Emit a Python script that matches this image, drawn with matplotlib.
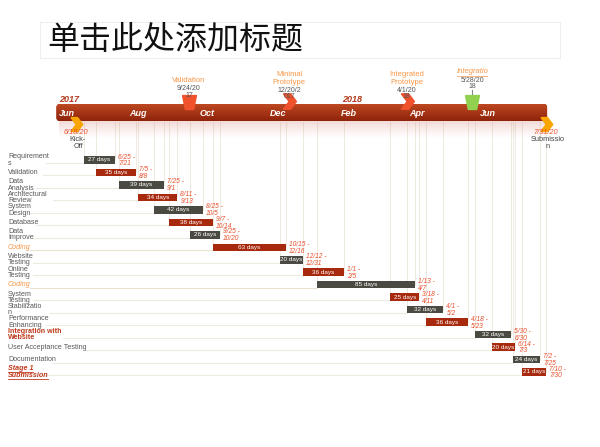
import matplotlib
matplotlib.use("Agg")
import matplotlib.pyplot as plt
import matplotlib.dates as mdates
import matplotlib.transforms as mtransforms
from matplotlib.patches import FancyBboxPatch, Rectangle
from matplotlib.path import Path
import numpy as np
import pandas as pd

# ---- data ----
title = "单击此处添加标题"

task_labels = ["Requirement\ns", "Validation", "Data\nAnalysis", "Architectural\nReview",
               "System\nDesign", "Database", "Data\nImprove", "Coding", "Website\nTesting",
               "Online\nTesting", "Coding", "System\nTesting", "Stabilizatio\nn",
               "Performance\nEnhancing", "Integration with\nWebsite", "User Acceptance Testing",
               "Documentation", "Stage 1\nSubmission"]
task_kind = ["n", "n", "n", "n", "n", "n", "n", "code", "n", "n", "code", "n", "n", "n",
             "integ", "n", "n", "stage"]
task_start = ["2017-06-25", "2017-07-05", "2017-07-25", "2017-08-11", "2017-08-25",
              "2017-09-07", "2017-09-25", "2017-10-15", "2017-12-12", "2018-01-01",
              "2018-01-13", "2018-03-18", "2018-04-01", "2018-04-18", "2018-05-30",
              "2018-06-14", "2018-07-02", "2018-07-10"]
task_days = [27, 35, 39, 34, 42, 38, 26, 63, 20, 36, 85, 25, 32, 36, 32, 20, 24, 21]
task_range = ["6/25 -\n7/21", "7/5 -\n8/8", "7/25 -\n9/1", "8/11 -\n9/13", "8/25 -\n10/5",
              "9/7 -\n10/14", "9/25 -\n10/20", "10/15 -\n12/16", "12/12 -\n12/31",
              "1/1 -\n2/5", "1/13 -\n4/7", "3/18 -\n4/11", "4/1 -\n5/2", "4/18 -\n5/23",
              "5/30 -\n6/30", "6/14 -\n7/3", "7/2 -\n7/25", "7/10 -\n7/30"]

ms_dates = ["2017-06-18", "2017-09-24", "2017-12-20", "2018-04-01", "2018-05-28", "2018-07-31"]
ms_names = ["Kick-\nOff", "Validation", "Minimal\nPrototype", "Integrated\nPrototype",
            "Integratio", "Submissio\nn"]
ms_datetext = ["6/18/20", "9/24/20\n17", "12/20/2\n017", "4/1/20\n18", "5/28/20\n18", "7/31/20"]

months = ["2017-06-01", "2017-08-01", "2017-10-01", "2017-12-01", "2018-02-01",
          "2018-04-01", "2018-06-01"]
month_names = ["Jun", "Aug", "Oct", "Dec", "Feb", "Apr", "Jun"]
years = ["2017", "2018"]
year_at = ["2017-06-01", "2018-02-01"]
timeline_span = ["2017-06-01", "2018-08-01"]

# ---- colours ----
GRAY = "#4b4a42"
RED = "#a82a0e"
DATE_RED = "#e8502d"
ORANGE = "#f79646"
LABEL_GRAY = "#595959"
LINE = "#eeeadf"


def dnum(s):
    return mdates.date2num(pd.Timestamp(s))


PX = 1.152  # pixels per day
d0 = dnum("2017-06-18")

fig = plt.figure(figsize=(6, 4.47), dpi=100)
ax = fig.add_axes([0, 0, 1, 1])
ax.axis("off")
lab_tr = mtransforms.blended_transform_factory(ax.transAxes, ax.transData)
fnt = "Liberation Sans"

# title box
fig.patches.append(Rectangle((40 / 600, 1 - 58 / 447), 520 / 600, 36 / 447,
                             transform=fig.transFigure, fill=False, ec="#eeeeee", lw=0.8))
fig.text(47 / 600, 1 - 40 / 447, title, fontsize=23, va="center", ha="left",
         family=["Noto Sans CJK SC", "DejaVu Sans"], fontweight="light", color="#111111")

# timeline bar with gradient + reflection
tx0, tx1 = dnum(timeline_span[0]), dnum(timeline_span[1])
bar_top, bar_bot = 104, 121
tl = FancyBboxPatch((tx0, bar_top), tx1 - tx0, bar_bot - bar_top,
                    boxstyle="round,pad=0,rounding_size=3", mutation_aspect=1.17,
                    fc="#a5321a", ec="none", zorder=3)
ax.add_patch(tl)
grad = np.linspace(0, 1, 20)[:, None, None]
top_c = np.array([0.74, 0.28, 0.13])
bot_c = np.array([0.56, 0.14, 0.04])
img = top_c * (1 - grad) + bot_c * grad
im = ax.imshow(img, extent=[tx0, tx1, bar_bot, bar_top], origin="upper", aspect="auto",
               zorder=3.1)
im.set_clip_path(tl)
refl = np.zeros((24, 1, 4))
refl[..., 0], refl[..., 1], refl[..., 2] = 0.80, 0.45, 0.40
refl[:, 0, 3] = np.linspace(0.35, 0.0, 24) ** 1.3
ax.imshow(refl, extent=[tx0 + 2, tx1 - 2, 140, bar_bot + 0.5], origin="upper",
          aspect="auto", zorder=1)
ax.set_xlim(d0 - 76 / PX, d0 + 524 / PX)
ax.set_ylim(447, 0)

for m, name in zip(months, month_names):
    ax.text(dnum(m) + 2.5 / PX, 113, name, color="white", fontsize=6.5, fontweight="bold",
            style="italic", ha="left", va="center", family=fnt, zorder=4)
for y, m in zip(years, year_at):
    ax.text(dnum(m) + 3 / PX, 99, y, color="#b23a1d", fontsize=6.5, fontweight="bold",
            style="italic", ha="left", va="center", family=fnt, zorder=4)

# ---- tasks ----
top_row, row_step, bar_h = 160, 12.47, 7.5
for i, (lab, kind, st, nd, rng) in enumerate(zip(task_labels, task_kind, task_start,
                                                task_days, task_range)):
    y = top_row + i * row_step
    s = dnum(st)
    e = s + nd
    col = GRAY if i % 2 == 0 else RED
    # guide lines
    for xv in (s, e):
        ax.plot([xv, xv], [bar_bot + 1, y], color=LINE, lw=0.7, zorder=0.5)
    longest = max(len(t) for t in lab.split("\n"))
    lx = d0 - 76 / PX + (10 + 3.3 * longest) / PX
    ax.plot([lx, s], [y + 3, y + 3], color="#e9e3d0" if kind == "code" else LINE,
            lw=0.8, zorder=0.6)
    ax.barh(y, nd, left=s, height=bar_h, color=col, zorder=2)
    ax.text(s + nd / 2, y, f"{nd} days", color="white", fontsize=4.6, ha="center",
            va="center", family=fnt, zorder=5)
    ax.text(e + 3 / PX, y + 0.5, rng, color=DATE_RED, fontsize=4.8, style="italic",
            ha="left", va="center", family=fnt, linespacing=0.98, zorder=5)
    kw = dict(fontsize=5.1, ha="left", va="center", family=fnt, linespacing=0.86,
              transform=lab_tr, color=LABEL_GRAY)
    if kind == "code":
        kw.update(color=ORANGE, style="italic")
    elif kind == "integ":
        kw.update(color="#c0391b", fontweight="bold")
    elif kind == "stage":
        kw.update(color="#c0391b", fontweight="bold", style="italic")
    ax.text(8 / 600, y, lab, **kw)
    if kind == "stage":
        for k in range(2):
            ax.plot([8 / 600, (8 + [25, 40][k]) / 600], [y - 0.3 + 7 * k, y - 0.3 + 7 * k],
                    color="#c0391b", lw=0.6, transform=lab_tr)

# ---- milestones ----
chev = Path([(-0.8, 1), (0.15, 1), (0.9, 0), (0.15, -1), (-0.8, -1), (-0.05, 0), (-0.8, 1)])
cup = Path([(-1, 1), (1, 1), (0.6, -1), (-0.6, -1), (-1, 1)])
ms_x = [dnum(d) for d in ms_dates]

# below-bar milestones: kick-off and submission
for k in (0, 5):
    ax.plot(ms_x[k], 124, marker=chev, markersize=10, color="#f9a602", ls="none", zorder=6)
    ax.text(ms_x[k], 132.5, ms_datetext[k], color=DATE_RED, fontsize=5.3, style="italic",
            ha="center", va="center", family=fnt, zorder=6)
    ax.text(ms_x[k] + 2 / PX, 136, ms_names[k], color="#444444", fontsize=5.3,
            ha="center", va="top", family=fnt, linespacing=1.05, zorder=6)

# validation (cup)
ax.plot(ms_x[1], 102, marker=cup, markersize=10, color="#f0522b", ls="none", zorder=6)
ax.text(ms_x[1], 84.5, ms_names[1], color=ORANGE, fontsize=5.5, ha="center", va="bottom",
        family=fnt, zorder=6)
ax.text(ms_x[1], 85.5, ms_datetext[1], color="#555555", fontsize=5, ha="center",
        va="top", family=fnt, linespacing=0.98, zorder=6)

# prototypes (chevrons on bar edge)
for k in (2, 3):
    ax.plot(ms_x[k], 101, marker=chev, markersize=11, color="#f0522b", ls="none", zorder=6)
    ax.text(ms_x[k], 85.5, ms_names[k], color=ORANGE, fontsize=5.5, ha="center",
            va="bottom", family=fnt, linespacing=1.0, zorder=6)
    ax.text(ms_x[k], 86.5, ms_datetext[k], color="#555555", fontsize=5, ha="center",
            va="top", family=fnt, linespacing=0.98, zorder=6)

# integration (green cup on stem)
ax.plot([ms_x[4], ms_x[4]], [90, 98], color="#888888", lw=0.8, zorder=5)
ax.plot(ms_x[4], 102, marker=cup, markersize=10, color="#92d050", ls="none", zorder=6)
ax.text(ms_x[4], 75, ms_names[4], color=ORANGE, fontsize=5.5, style="italic",
        ha="center", va="bottom", family=fnt, zorder=6)
ax.plot([ms_x[4] - 15 / PX, ms_x[4] + 15 / PX], [75.5, 75.5], color=ORANGE, lw=0.5)
ax.text(ms_x[4], 76.5, ms_datetext[4], color="#555555", fontsize=5, ha="center",
        va="top", family=fnt, linespacing=0.98, zorder=6)

fig.savefig("out.png", dpi=100)
